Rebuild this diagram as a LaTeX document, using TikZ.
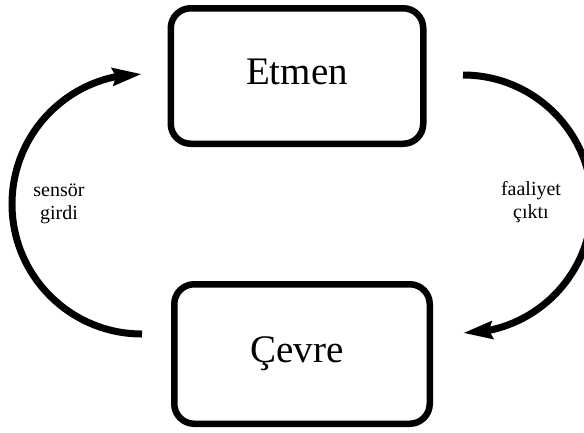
\documentclass[tikz,border=0pt]{standalone}
\usepackage{fontspec}
\setmainfont{Liberation Serif}
\usetikzlibrary{arrows.meta,bending}
\begin{document}
\begin{tikzpicture}[x=1pt,y=-1pt,
  box/.style={draw,line width=6.5pt,rounded corners=20pt,inner sep=0pt,
    text height=16.6pt,text depth=0pt,font=\fontsize{39}{45}\selectfont},
  flow/.style={line width=7pt,-{Stealth[length=29pt,width=17pt,inset=3pt,flex]}},
  note/.style={font=\fontsize{20}{23}\selectfont,align=center,inner sep=0pt}]
\useasboundingbox (0,0) rectangle (584,432);

% agent and environment
\node[box,minimum width=252.5pt,minimum height=135.5pt] (etmen) at (297,76) {Etmen};
\node[box,minimum width=255.5pt,minimum height=139.5pt] (cevre) at (302,354) {\hspace*{-10pt}Çevre};

% ends of the two loops
\coordinate (sensS) at (142,334);
\coordinate (actS) at (463,75);

% percept: environment -> agent
\draw[flow] (sensS) arc[start angle=90,end angle=270,radius=130];
% action: agent -> environment
\draw[flow] (actS) arc[start angle=-90,end angle=90,radius=129];

% loop labels
\node[note] (sensor) at (59,204) {sensör\\girdi};
\node[note] (faaliyet) at (531,202) {faaliyet\\çıktı};
\end{tikzpicture}
\end{document}
